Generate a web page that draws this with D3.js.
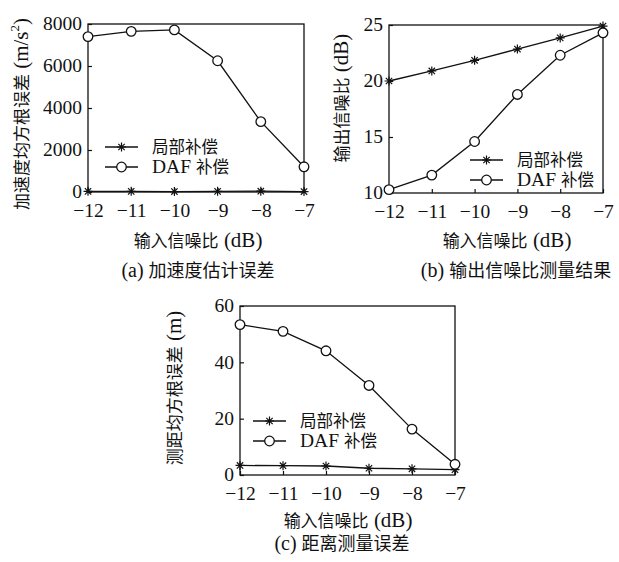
<!DOCTYPE html>
<html>
<head>
<meta charset="utf-8">
<script src="https://cdn.jsdelivr.net/npm/d3@7"></script>
<style>
  html, body { margin: 0; padding: 0; background: #fff; }
  svg { display: block; }
  text { fill: #111; }
</style>
</head>
<body>
<svg id="chart" width="619" height="562"></svg>
<script>
// Input SNR values shared by all three panels
const snrIn = [-12, -11, -10, -9, -8, -7];
const xTicks = [-12, -11, -10, -9, -8, -7];

// (a) acceleration estimation RMSE, m/s^2
const accLocal = [30, 30, 20, 30, 40, 20];
const accDAF   = [7400, 7650, 7720, 6250, 3350, 1200];
const accTicks = [0, 2000, 4000, 6000, 8000];

// (b) output SNR, dB
const snrLocal = [20.0, 20.9, 21.85, 22.85, 23.85, 24.9];
const snrDAF   = [10.3, 11.6, 14.6, 18.8, 22.3, 24.3];
const snrTicks = [10, 15, 20, 25];

// (c) range measurement RMSE, m
const rngLocal = [3.4, 3.3, 3.2, 2.4, 2.2, 1.9];
const rngDAF   = [53.4, 51.0, 44.1, 31.8, 16.3, 3.8];
const rngTicks = [0, 20, 40, 60];

const seriesNames = ["局部补偿", "DAF 补偿"];

const SERIF = "Liberation Serif";
const CJK = "Noto Sans CJK SC";

const svg = d3.select("#chart");

function starPath(r) {
  const d = r * Math.SQRT1_2;
  return `M0,${-r}L0,${r}M${-r},0L${r},0M${-d},${-d}L${d},${d}M${-d},${d}L${d},${-d}`;
}

function drawStar(g, x, y) {
  g.append("path").attr("d", starPath(4.5)).attr("transform", `translate(${x},${y})`)
    .attr("stroke", "#111").attr("stroke-width", 1.2).attr("fill", "none");
}
function drawCircle(g, x, y) {
  g.append("circle").attr("cx", x).attr("cy", y).attr("r", 4.8)
    .attr("stroke", "#111").attr("stroke-width", 1.3).attr("fill", "#fff");
}

function serif(sel, size) { return sel.style("font-family", SERIF).style("font-size", size + "px"); }
function cjk(sel, size) { return sel.style("font-family", CJK).style("font-size", size + "px"); }

function panel(cfg) {
  const g = svg.append("g");
  const x = d3.scaleLinear().domain([-12, -7]).range([cfg.left, cfg.right]);
  const y = d3.scaleLinear().domain(cfg.yDomain).range([cfg.bottom, cfg.top]);

  // frame
  g.append("rect").attr("x", cfg.left).attr("y", cfg.top)
    .attr("width", cfg.right - cfg.left).attr("height", cfg.bottom - cfg.top)
    .attr("fill", "none").attr("stroke", "#111").attr("stroke-width", 1.3);

  // axes with inward ticks
  const xAxis = g.append("g").attr("transform", `translate(0,${cfg.bottom})`)
    .call(d3.axisBottom(x).tickValues(xTicks).tickSizeInner(-4).tickSizeOuter(0)
      .tickPadding(10).tickFormat(d => "\u2212" + Math.abs(d)));
  const yAxis = g.append("g").attr("transform", `translate(${cfg.left},0)`)
    .call(d3.axisLeft(y).tickValues(cfg.yTicks).tickSizeInner(-4).tickSizeOuter(0)
      .tickPadding(6).tickFormat(d3.format("d")));
  [xAxis, yAxis].forEach(a => {
    a.attr("font-family", null).attr("font-size", null);
    a.select(".domain").remove();
    a.selectAll("line").attr("stroke", "#111").attr("stroke-width", 1.2);
    serif(a.selectAll("text"), 19.5).attr("fill", "#111");
  });
  xAxis.selectAll("text").attr("dy", "0.71em").attr("y", 11);
  yAxis.selectAll("text").attr("dy", "0.30em");

  // series
  const line = d3.line().x((d, i) => x(snrIn[i])).y(d => y(d));
  [cfg.local, cfg.daf].forEach(vals => {
    g.append("path").datum(vals).attr("d", line)
      .attr("fill", "none").attr("stroke", "#111").attr("stroke-width", 1.3);
  });
  cfg.local.forEach((v, i) => drawStar(g, x(snrIn[i]), y(v)));
  cfg.daf.forEach((v, i) => drawCircle(g, x(snrIn[i]), y(v)));

  // legend
  const L = cfg.legend;
  seriesNames.forEach((name, i) => {
    const ly = L.y + i * 20;
    g.append("line").attr("x1", L.x).attr("x2", L.x + 33).attr("y1", ly).attr("y2", ly)
      .attr("stroke", "#111").attr("stroke-width", 1.3);
    if (i === 0) drawStar(g, L.x + 16.5, ly); else drawCircle(g, L.x + 16.5, ly);
    const t = g.append("text").attr("x", L.x + 47).attr("y", ly).attr("dy", "0.36em");
    if (i === 0) {
      cjk(t, 16.5).text(name);
    } else {
      serif(t.append("tspan"), 19.5).text("DAF ");
      cjk(t.append("tspan"), 16.5).text("补偿");
    }
  });

  // y-axis title (rotated)
  const yt = g.append("text")
    .attr("transform", `translate(${cfg.yTitleX},${cfg.yTitleY}) rotate(-90)`)
    .attr("text-anchor", "middle").attr("dy", "0.36em");
  cjk(yt.append("tspan"), 17).text(cfg.yTitleCJK);
  serif(yt.append("tspan"), 21).text(cfg.yTitleUnit);
  if (cfg.yTitleSup) {
    serif(yt.append("tspan"), 13).attr("dy", "-0.7em").text(cfg.yTitleSup);
    serif(yt.append("tspan"), 21).attr("dy", "0.43em").text(")");
  }

  // x-axis title
  const xt = g.append("text").attr("x", cfg.xTitleX).attr("y", cfg.xTitleY)
    .attr("text-anchor", "middle").attr("dy", "0.36em");
  cjk(xt.append("tspan"), 17).text("输入信噪比");
  serif(xt.append("tspan"), 21).text(" (dB)");

  // caption
  const ct = g.append("text").attr("x", cfg.capX).attr("y", cfg.capY)
    .attr("text-anchor", "middle").attr("dy", "0.36em");
  serif(ct.append("tspan"), 20).text(cfg.capTag + " ");
  cjk(ct.append("tspan"), 18).text(cfg.capText);
}

panel({
  left: 88, right: 304, top: 24, bottom: 192,
  yDomain: [0, 8000], yTicks: accTicks,
  local: accLocal, daf: accDAF,
  legend: { x: 105, y: 147 },
  yTitleX: 22, yTitleY: 114, yTitleCJK: "加速度均方根误差", yTitleUnit: " (m/s", yTitleSup: "2",
  xTitleX: 198, xTitleY: 241,
  capX: 198, capY: 271, capTag: "(a)", capText: "加速度估计误差"
});

panel({
  left: 389, right: 603, top: 25, bottom: 193,
  yDomain: [10, 25], yTicks: snrTicks,
  local: snrLocal, daf: snrDAF,
  legend: { x: 470, y: 160 },
  yTitleX: 342, yTitleY: 98, yTitleCJK: "输出信噪比", yTitleUnit: " (dB)",
  xTitleX: 507, xTitleY: 241,
  capX: 516, capY: 271, capTag: "(b)", capText: "输出信噪比测量结果"
});

panel({
  left: 240, right: 455, top: 306, bottom: 475,
  yDomain: [0, 60], yTicks: rngTicks,
  local: rngLocal, daf: rngDAF,
  legend: { x: 253, y: 421 },
  yTitleX: 175, yTitleY: 388, yTitleCJK: "测距均方根误差", yTitleUnit: " (m)",
  xTitleX: 348, xTitleY: 521,
  capX: 342, capY: 544, capTag: "(c)", capText: "距离测量误差"
});
</script>
</body>
</html>
